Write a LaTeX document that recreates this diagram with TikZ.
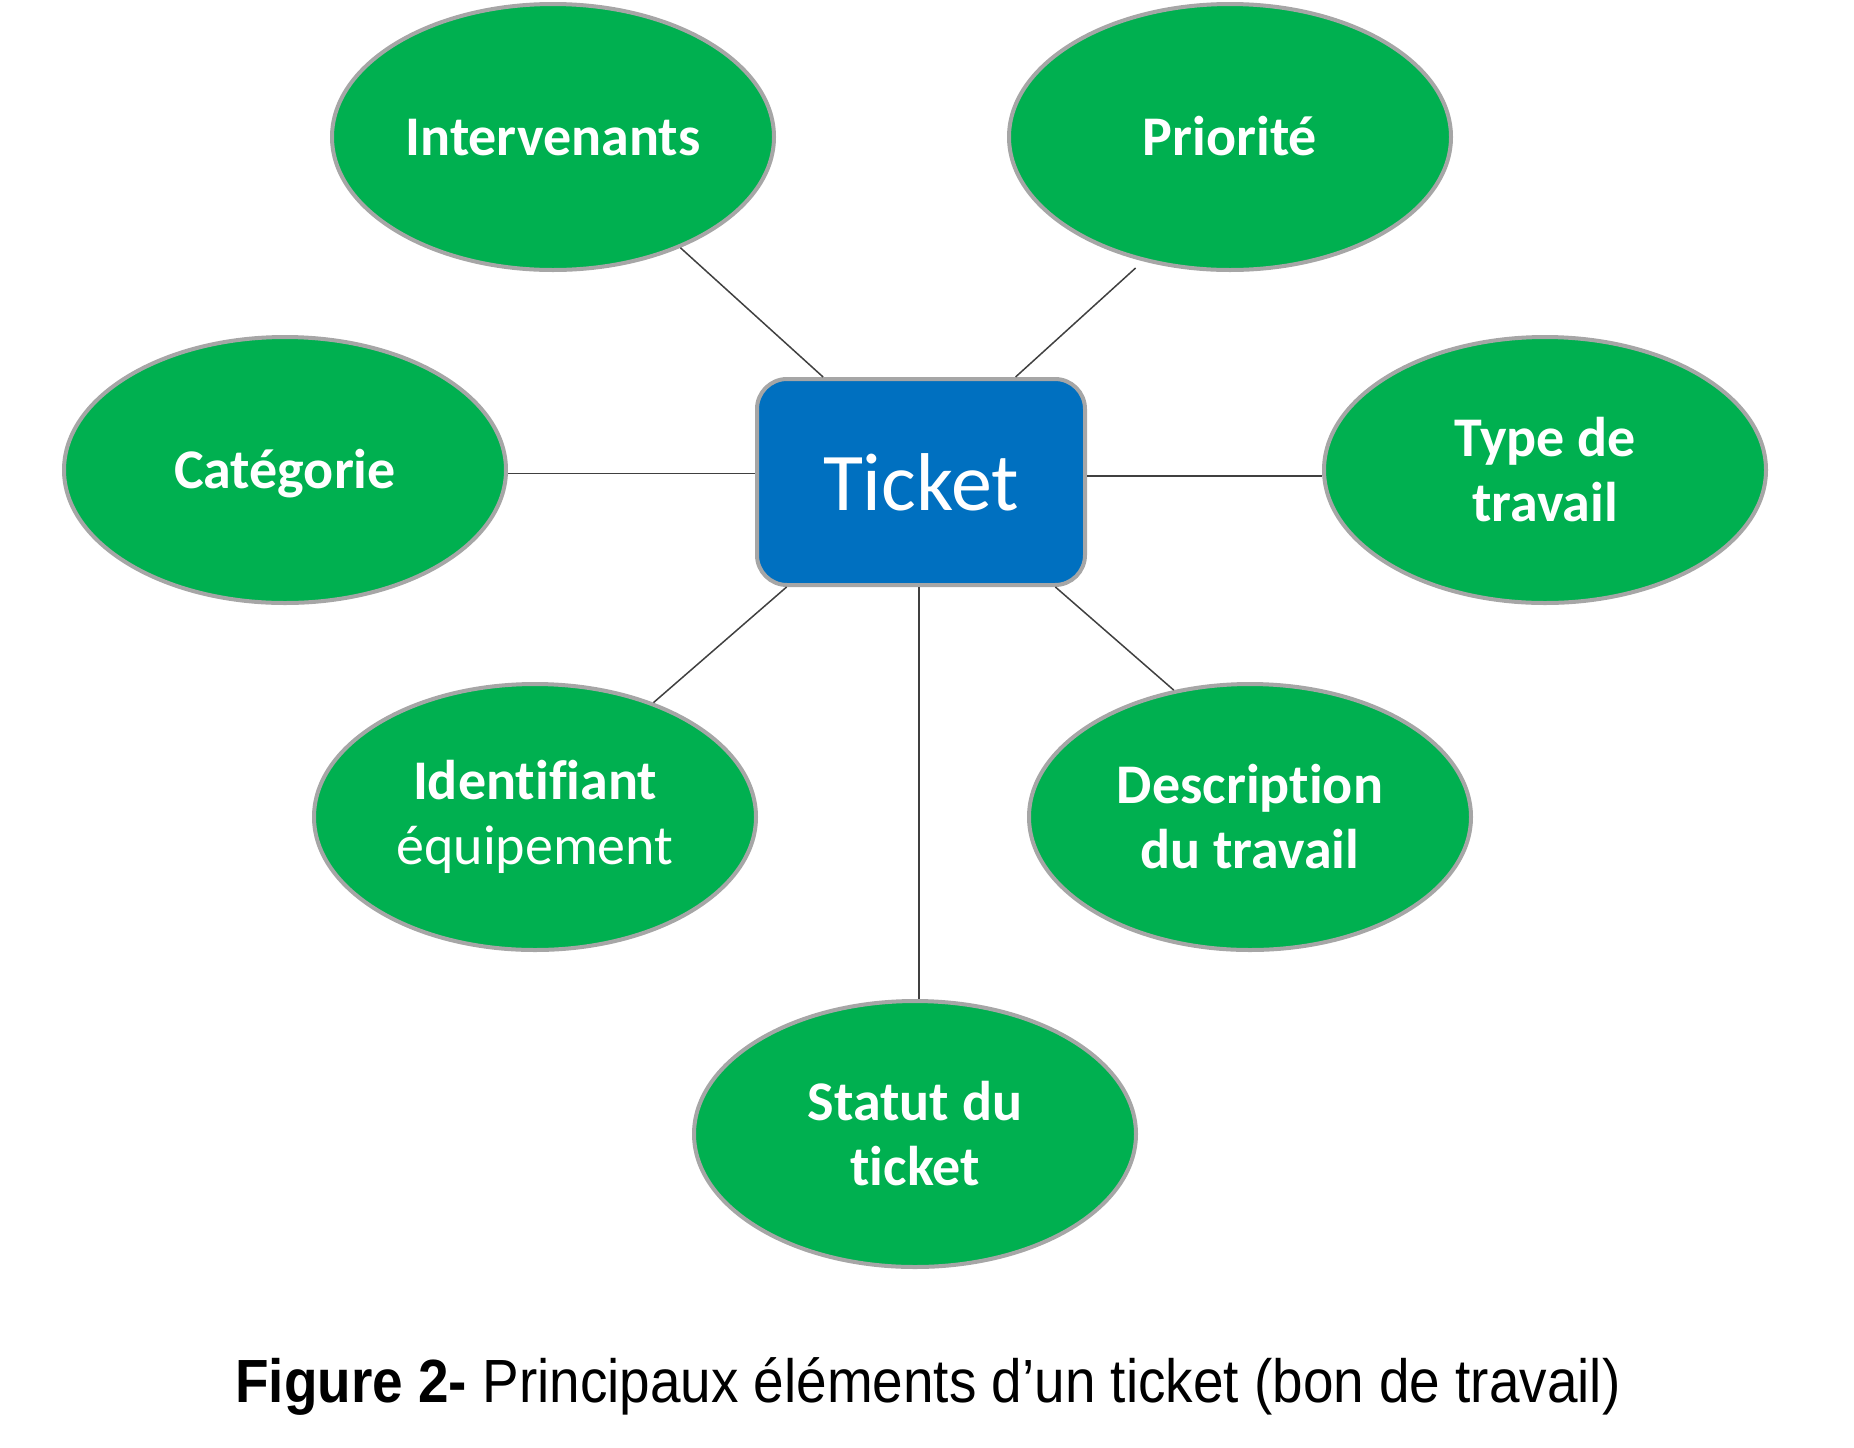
\documentclass[tikz,border=0pt]{standalone}
\usepackage{fontspec}
\setmainfont{Carlito}[Ligatures=NoCommon, RawFeature={-liga;-clig;-dlig;-calt}]
\newfontfamily\arialfont{Liberation Sans}
\usetikzlibrary{shapes.geometric}
\definecolor{ovalgreen}{HTML}{00B050}
\definecolor{ticketblue}{HTML}{0070C0}
\definecolor{bordergray}{HTML}{A6A6A6}
\definecolor{linegray}{HTML}{404040}
\tikzset{
  oval/.style={ellipse, draw=bordergray, line width=2pt, fill=ovalgreen,
    minimum width=221pt, minimum height=133pt, inner sep=0pt,
    text=white, align=center, font=\bfseries\fontsize{28}{32.5}\selectfont},
  oneline/.style={text height=18pt, text depth=0pt},
  centerbox/.style={rectangle, rounded corners=15pt, draw=bordergray, line width=2pt,
    fill=ticketblue, minimum width=164pt, minimum height=103pt, inner sep=0pt,
    text=white, font=\fontsize{41}{48}\selectfont},
  conn/.style={draw=linegray, line width=0.75pt}
}
\begin{document}
\begin{tikzpicture}[x=0.5pt,y=-0.5pt]
\useasboundingbox (0,0) rectangle (1854,1447);
\node[centerbox] (ticket) at (921,482) {Ticket};
\node[oval, oneline] (interv) at (553,137) {Intervenants};
\node[oval, oneline] (prio) at (1230,137) {Priorité};
\node[oval, oneline] (cat) at (285,470) {Catégorie};
\node[oval] (type) at (1545,470) {Type de\\travail};
\node[oval] (ident) at (535,817) {Identifiant\\{\mdseries équipement}};
\node[oval] (desc) at (1250,817) {Description\\du travail};
\node[oval] (statut) at (915,1134) {Statut du\\ticket};
\draw[conn] (interv.-41) -- (ticket.133);
\draw[conn, shorten <=5pt] (prio.-125) -- (ticket.48);
\draw[conn] (cat.east |- ticket.177.6) -- (ticket.177.6);
\draw[conn] (ticket.2.4) -- (ticket.2.4 -| type.west);
\draw[conn] (ident.44.8) -- (ticket.-142.5);
\draw[conn] (desc.121.8) -- (ticket.-38.1);
\draw[conn] (ticket.-91.6) -- (ticket.-91.6 |- statut.north);
\node[anchor=base, inner sep=0pt] (caption) at (928,1402)
  {\scalebox{0.9}[1]{\arialfont\fontsize{30.5}{36}\selectfont\textbf{Figure 2-} Principaux éléments d’un ticket (bon de travail)}};
\end{tikzpicture}
\end{document}
